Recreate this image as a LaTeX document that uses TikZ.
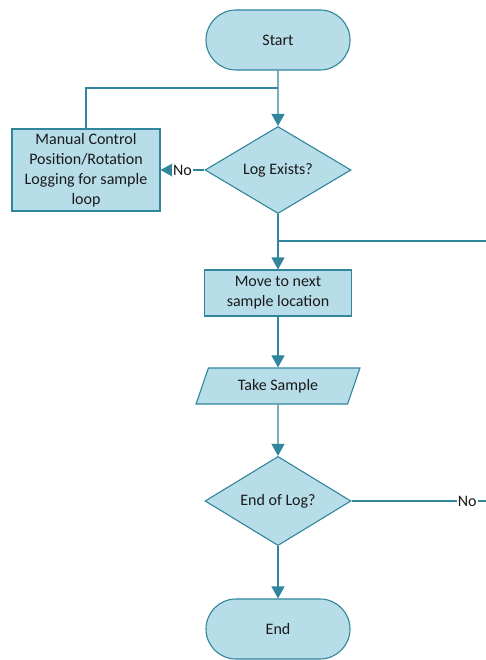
\documentclass[tikz,border=0pt]{standalone}
\usepackage{fontspec}
\setmainfont{Carlito}
\usepackage{xcolor}
\usetikzlibrary{arrows.meta,shapes.geometric,shapes.misc}
\definecolor{flowfill}{HTML}{B7DDE8}
\definecolor{flowline}{HTML}{31859C}
\definecolor{flowtext}{HTML}{1A1A1A}

\begin{document}
\begin{tikzpicture}[x=1pt,y=-1pt,>={Triangle[length=12pt,width=13pt]},
    font=\fontsize{16}{20}\selectfont,text=flowtext,
    box/.style={draw=flowline,fill=flowfill,line width=1.1pt,align=center,
      inner sep=2pt},
    terminal/.style={box,rounded rectangle,minimum width=148pt,minimum height=60pt},
    process/.style={box,rectangle,minimum width=147pt},
    decision/.style={box,diamond,minimum width=146pt,minimum height=87pt,
      inner sep=0pt},
    io/.style={box,trapezium,trapezium left angle=67,trapezium right angle=113,
      trapezium stretches=true,minimum width=165pt,minimum height=36pt},
    flow/.style={draw=flowline,line width=1.1pt},
    label/.style={fill=white,inner sep=1pt}]
    \useasboundingbox (0,0) rectangle (486,660);

    \node[terminal] (start) at (278,40) {Start};
    \node[decision] (exists) at (278,170) {Log Exists?};
    \node[process,minimum width=148pt,minimum height=82pt] (manual) at (86,170)
      {Manual Control\\Position/Rotation\\Logging for sample\\loop};
    \node[process,minimum height=46pt] (move) at (278,293)
      {Move to next\\sample location};
    \node[io] (sample) at (278,386) {Take Sample};
    \node[decision,minimum height=89pt] (endlog) at (278,501) {End of Log?};
    \node[terminal] (end) at (278,629) {End};

    \coordinate (join) at (278,88);
    \coordinate (split) at (278,241);
    \coordinate (splitout) at (486,241);
    \coordinate (noout) at (486,501);

    \draw[flow,->] (start) -- (exists);
    \draw[flow] (manual.north) |- (join);
    \draw[flow,->] (exists.west) -- node[label,pos=0.5]{No} (manual.east);
    \draw[flow,->] (exists) -- (move);
    \draw[flow] (split) -- (splitout);
    \draw[flow,->] (move) -- (sample);
    \draw[flow,->] (sample) -- (endlog);
    \draw[flow,->] (endlog) -- (end);
    \draw[flow] (endlog.east) -- node[label,pos=0.86]{No} (noout);
  \end{tikzpicture}
\end{document}
